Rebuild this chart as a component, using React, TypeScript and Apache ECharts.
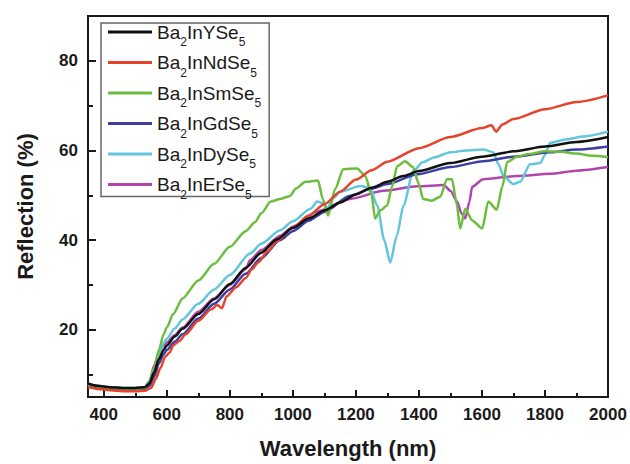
import React, { useEffect, useRef } from "react";
import * as echarts from "echarts";

const seriesNames = ["Ba2InYSe5", "Ba2InNdSe5", "Ba2InSmSe5", "Ba2InGdSe5", "Ba2InDySe5", "Ba2InErSe5"];
const seriesColors = ["#111111", "#e5432b", "#6cbd3e", "#3b3ea3", "#62c6dc", "#b046ad"];

const xTickValues = [400, 600, 800, 1000, 1200, 1400, 1600, 1800, 2000];
const xMinorValues = [500, 700, 900, 1100, 1300, 1500, 1700, 1900];
const yTickValues = [20, 40, 60, 80];
const yMinorValues = [10, 30, 50, 70];

const yX = [350, 380, 420, 460, 500, 530, 545, 560, 575, 590, 600, 625, 650, 700, 750, 800, 850, 900, 950, 1000, 1050, 1100, 1150, 1200, 1250, 1300, 1350, 1400, 1500, 1600, 1700, 1800, 1900, 2000];
const yY = [8.0, 7.5, 7.2, 7.0, 7.0, 7.2, 8.0, 10.5, 13.5, 15.5, 16.5, 18.5, 20.2, 23.5, 26.8, 30.2, 33.8, 37.2, 40.2, 42.7, 44.8, 46.6, 48.4, 50.2, 51.7, 53.0, 54.3, 55.4, 57.2, 58.6, 59.8, 60.9, 61.9, 63.0];

const ndX = [350, 380, 420, 460, 500, 530, 550, 565, 580, 595, 610, 620, 640, 660, 700, 740, 760, 775, 790, 820, 850, 870, 890, 920, 950, 1000, 1050, 1100, 1150, 1200, 1250, 1300, 1400, 1500, 1600, 1630, 1645, 1665, 1700, 1800, 1900, 2000];
const ndY = [7.2, 6.8, 6.5, 6.3, 6.3, 6.4, 7.0, 9.0, 11.5, 14.0, 15.0, 16.5, 17.5, 19.0, 22.0, 24.5, 25.5, 24.8, 27.5, 29.5, 31.5, 33.5, 35.0, 37.5, 39.8, 42.8, 45.5, 48.0, 50.8, 53.5, 55.6, 57.5, 60.5, 63.0, 65.0, 65.6, 64.2, 65.8, 67.0, 69.2, 70.8, 72.3];

const smX = [350, 380, 420, 460, 500, 530, 545, 560, 575, 590, 600, 620, 650, 700, 750, 800, 850, 880, 900, 930, 960, 990, 1010, 1040, 1080, 1095, 1112, 1134, 1160, 1204, 1230, 1250, 1261, 1277, 1299, 1315, 1331, 1356, 1381, 1400, 1413, 1441, 1468, 1489, 1505, 1520, 1531, 1547, 1569, 1601, 1620, 1647, 1665, 1680, 1711, 1750, 1800, 1850, 1900, 1950, 2000];
const smY = [7.8, 7.4, 7.1, 6.9, 6.9, 7.0, 8.5, 11.5, 15.5, 19.0, 20.5, 23.5, 27.0, 31.0, 34.7, 38.5, 42.0, 44.0, 46.0, 48.6, 49.2, 49.8, 51.5, 53.0, 53.3, 49.2, 45.5, 51.4, 55.8, 56.0, 54.3, 50.0, 44.8, 46.6, 47.7, 52.0, 56.5, 57.6, 56.3, 52.5, 49.2, 48.8, 49.7, 53.6, 53.6, 48.0, 42.6, 47.0, 44.4, 42.6, 48.6, 46.8, 52.0, 57.4, 58.6, 59.2, 59.8, 59.7, 59.3, 58.8, 58.5];

const gdX = [350, 380, 420, 460, 500, 530, 545, 560, 575, 590, 600, 625, 650, 700, 750, 800, 850, 900, 960, 1000, 1050, 1100, 1182, 1250, 1300, 1395, 1500, 1604, 1700, 1816, 1900, 2000];
const gdY = [7.6, 7.2, 6.9, 6.7, 6.7, 6.8, 7.5, 9.5, 12.5, 14.5, 15.5, 17.3, 19.0, 22.5, 25.8, 29.0, 32.5, 36.0, 40.0, 42.0, 44.3, 46.3, 49.9, 51.5, 52.5, 54.7, 56.3, 57.6, 58.6, 59.6, 60.2, 60.9];

const dyX = [350, 380, 420, 460, 500, 530, 545, 560, 575, 590, 600, 625, 650, 700, 750, 800, 864, 900, 960, 1000, 1056, 1078, 1095, 1109, 1130, 1150, 1214, 1245, 1268, 1290, 1309, 1330, 1351, 1382, 1413, 1450, 1500, 1550, 1604, 1636, 1652, 1668, 1700, 1721, 1753, 1785, 1800, 1816, 1870, 1920, 2000];
const dyY = [7.9, 7.5, 7.2, 7.0, 7.0, 7.2, 8.5, 11.0, 14.5, 17.0, 18.0, 20.3, 22.3, 25.8, 29.0, 32.2, 37.0, 39.2, 42.2, 44.2, 47.0, 48.6, 48.2, 47.2, 49.5, 50.8, 52.1, 51.6, 47.7, 40.0, 35.0, 41.0, 47.7, 55.4, 57.4, 58.5, 59.6, 60.0, 60.2, 59.6, 57.0, 54.3, 52.5, 53.0, 56.9, 57.2, 59.0, 61.7, 62.5, 63.1, 64.2];

const erX = [350, 380, 420, 460, 500, 530, 545, 560, 575, 590, 601, 625, 650, 700, 750, 800, 850, 864, 900, 960, 1000, 1078, 1182, 1288, 1395, 1479, 1500, 1521, 1535, 1547, 1560, 1569, 1604, 1711, 1816, 1900, 2000];
const erY = [7.4, 7.0, 6.7, 6.5, 6.5, 6.7, 8.5, 12.0, 15.0, 16.5, 17.2, 18.8, 20.5, 24.0, 27.0, 30.0, 33.5, 35.5, 37.8, 41.0, 43.0, 46.4, 49.2, 51.0, 52.0, 52.3, 51.0, 48.6, 46.0, 44.8, 48.5, 51.9, 53.6, 54.3, 54.8, 55.5, 56.3];

const allX = [yX, ndX, smX, gdX, dyX, erX];
const allY = [yY, ndY, smY, gdY, dyY, erY];

const legendLabel = (name: string) => {
  const m = name.match(/^Ba2In(.*)Se5$/);
  const mid = m ? m[1] : name;
  return `{m|Ba}{s|2}{m|In${mid}Se}{s|5}`;
};

export default function App() {
  const ref = useRef<HTMLDivElement>(null);
  useEffect(() => {
    if (!ref.current) return;
    const chart = echarts.init(ref.current, undefined, { renderer: "svg" });
    const font = "Liberation Sans, Arial, sans-serif";
    const axisFont = { fontFamily: font, fontWeight: "bold" as const, color: "#1a1a1a" };
    const plain = (v: number) => String(v);
    const option: any = {
      animation: false,
      backgroundColor: "#ffffff",
      grid: { left: 88, right: 22, top: 16, bottom: 64, show: true, borderColor: "#1a1a1a", borderWidth: 2, backgroundColor: "transparent" },
      legend: {
        orient: "vertical",
        left: 101,
        top: 23,
        padding: [-7, 8, -4, 7],
        itemGap: -1.5,
        itemWidth: 44,
        itemHeight: 3,
        borderColor: "#666666",
        borderWidth: 1.5,
        icon: "rect",
        data: seriesNames,
        formatter: (n: string) => legendLabel(n),
        textStyle: {
          width: 104,
          rich: {
            m: { fontSize: 19, lineHeight: 20, fontFamily: font, color: "#1a1a1a" },
            s: { fontSize: 12, lineHeight: 11, padding: [20, 0, 0, 0], fontFamily: font, color: "#1a1a1a" },
          },
        },
      },
      xAxis: [
        {
          type: "value",
          min: 350,
          max: 2000,
          name: "Wavelength (nm)",
          nameLocation: "middle",
          nameGap: 40,
          nameTextStyle: { ...axisFont, fontSize: 22 },
          axisLine: { show: true, onZero: false, lineStyle: { color: "#1a1a1a", width: 2 } },
          axisTick: { show: true, inside: true, length: 7, lineStyle: { color: "#1a1a1a", width: 2 }, customValues: xTickValues },
          axisLabel: { ...axisFont, fontSize: 17, margin: 9, customValues: xTickValues, formatter: plain },
          splitLine: { show: false },
        },
        {
          type: "value",
          min: 350,
          max: 2000,
          position: "bottom",
          axisLine: { show: false, onZero: false },
          axisTick: { show: true, inside: true, length: 4, lineStyle: { color: "#1a1a1a", width: 2 }, customValues: xMinorValues },
          axisLabel: { show: false },
          splitLine: { show: false },
        },
      ],
      yAxis: [
        {
          type: "value",
          min: 5,
          max: 90,
          name: "Reflection (%)",
          nameLocation: "middle",
          nameGap: 52,
          nameTextStyle: { ...axisFont, fontSize: 22 },
          axisLine: { show: true, onZero: false, lineStyle: { color: "#1a1a1a", width: 2 } },
          axisTick: { show: true, inside: true, length: 8, lineStyle: { color: "#1a1a1a", width: 2 }, customValues: yTickValues },
          axisLabel: { ...axisFont, fontSize: 17, margin: 10, customValues: yTickValues, formatter: plain },
          splitLine: { show: false },
        },
        {
          type: "value",
          min: 5,
          max: 90,
          position: "left",
          axisLine: { show: false, onZero: false },
          axisTick: { show: true, inside: true, length: 5, lineStyle: { color: "#1a1a1a", width: 2 }, customValues: yMinorValues },
          axisLabel: { show: false },
          splitLine: { show: false },
        },
      ],
      series: seriesNames.map((name, i) => ({
        name,
        type: "line",
        xAxisIndex: 0,
        yAxisIndex: 0,
        data: allX[i].map((x, j) => [x, allY[i][j]]),
        showSymbol: false,
        symbol: "none",
        smooth: 0.25,
        smoothMonotone: "x",
        lineStyle: { color: seriesColors[i], width: 2.5 },
        itemStyle: { color: seriesColors[i] },
        z: 2 + (5 - i),
      })),
    };
    chart.setOption(option);
    return () => chart.dispose();
  }, []);
  return <div ref={ref} style={{ position: "fixed", left: 0, top: 0, width: 630, height: 464 }} />;
}
